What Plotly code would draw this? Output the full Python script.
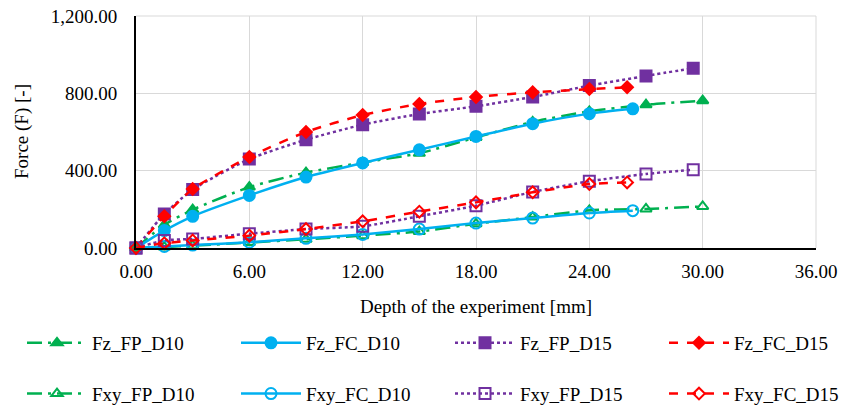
import plotly.graph_objects as go

# ---- data ----
x_fp_d10 = [0, 1.5, 3, 6, 9, 12, 15, 18, 21, 24, 27, 30]
fz_fp_d10 = [0, 120, 198, 315, 390, 442, 490, 572, 652, 707, 741, 762]
fxy_fp_d10 = [0, 5, 12, 28, 45, 64, 85, 125, 160, 195, 202, 215]

x_fc_d10 = [0, 1.5, 3, 6, 9, 12, 15, 18, 21, 24, 26.3]
fz_fc_d10 = [0, 90, 164, 272, 367, 440, 508, 577, 643, 695, 720]
fxy_fc_d10 = [0, 8, 15, 30, 50, 70, 98, 129, 155, 181, 193]

x_fp_d15 = [0, 1.5, 3, 6, 9, 12, 15, 18, 21, 24, 27, 29.5]
fz_fp_d15 = [0, 176, 302, 460, 560, 638, 693, 733, 781, 840, 890, 930]
fxy_fp_d15 = [0, 39, 47, 74, 98, 112, 164, 219, 290, 345, 383, 405]

x_fc_d15 = [0, 1.5, 3, 6, 9, 12, 15, 18, 21, 24, 26]
fz_fc_d15 = [0, 164, 305, 471, 600, 688, 745, 781, 805, 822, 831]
fxy_fc_d15 = [0, 25, 39, 64, 98, 138, 188, 236, 288, 331, 339]

x_ticks = [0, 6, 12, 18, 24, 30, 36]
y_ticks = [0, 400, 800, 1200]

GREEN = "#00b050"
BLUE = "#00b0f0"
PURPLE = "#7030a0"
RED = "#ff0000"
FONT = "Liberation Serif, Times New Roman, serif"

fig = go.Figure()

def add(name, x, y, color, dash, symbol, size, legend, group):
    fig.add_trace(go.Scatter(
        x=x, y=y, name=name, mode="lines+markers",
        line=dict(color=color, width=2.5, dash=dash, shape="spline", smoothing=0.6),
        marker=dict(symbol=symbol, size=size, color=color,
                    line=dict(color=color, width=2)),
        legend=legend, legendgroup=group, cliponaxis=False,
    ))

add("Fz_FP_D10", x_fp_d10, fz_fp_d10, GREEN, "longdashdot", "triangle-up", 10, "legend", "a1")
add("Fz_FC_D10", x_fc_d10, fz_fc_d10, BLUE, "solid", "circle", 11, "legend2", "b1")
add("Fz_FP_D15", x_fp_d15, fz_fp_d15, PURPLE, "dot", "square", 11, "legend3", "c1")
add("Fz_FC_D15", x_fc_d15, fz_fc_d15, RED, "dash", "diamond", 9, "legend4", "d1")
add("Fxy_FP_D10", x_fp_d10, fxy_fp_d10, GREEN, "longdashdot", "triangle-up-open", 10, "legend", "a2")
add("Fxy_FC_D10", x_fc_d10, fxy_fc_d10, BLUE, "solid", "circle-open", 11, "legend2", "b2")
add("Fxy_FP_D15", x_fp_d15, fxy_fp_d15, PURPLE, "dot", "square-open", 11, "legend3", "c2")
add("Fxy_FC_D15", x_fc_d15, fxy_fc_d15, RED, "dash", "diamond-open", 9, "legend4", "d2")

def leg(px):
    return dict(orientation="v", xref="container", yref="container",
                x=px / 856, xanchor="left", y=1 - 324 / 411, yanchor="top",
                itemwidth=60, tracegroupgap=23,
                font=dict(family=FONT, size=19, color="black"),
                bgcolor="rgba(0,0,0,0)")

fig.update_layout(
    width=856, height=411,
    margin=dict(l=136, r=40, t=16, b=163, autoexpand=False),
    paper_bgcolor="white", plot_bgcolor="white",
    font=dict(family=FONT, size=19, color="black"),
    legend=leg(22), legend2=leg(236), legend3=leg(450), legend4=leg(664),
    xaxis=dict(
        range=[0, 36], tickvals=x_ticks, tickformat=".2f",
        showgrid=True, gridcolor="#d9d9d9", gridwidth=1,
        showline=True, linecolor="black", linewidth=2,
        zeroline=False, ticks="", ticklabelstandoff=5,
        title=dict(text="Depth of the experiment [mm]", standoff=19,
                   font=dict(family=FONT, size=19)),
    ),
    yaxis=dict(
        range=[0, 1200], tickvals=y_ticks, tickformat=",.2f",
        showgrid=True, gridcolor="#d9d9d9", gridwidth=1,
        showline=True, linecolor="black", linewidth=2,
        zeroline=False, ticks="", ticklabelstandoff=13,
    ),
    annotations=[dict(
        text="Force (F) [-]", textangle=-90, showarrow=False,
        xref="paper", yref="paper", x=(22 - 136) / 680, y=0.5,
        xanchor="center", yanchor="middle",
        font=dict(family=FONT, size=19, color="black"),
    )],
)

fig.add_shape(type="line", xref="paper", yref="paper", x0=0, x1=1, y0=1, y1=1,
              line=dict(color="#d9d9d9", width=1), layer="below")
fig.add_shape(type="line", xref="paper", yref="paper", x0=1, x1=1, y0=0, y1=1,
              line=dict(color="#d9d9d9", width=1), layer="below")

fig.write_html("out.html")
